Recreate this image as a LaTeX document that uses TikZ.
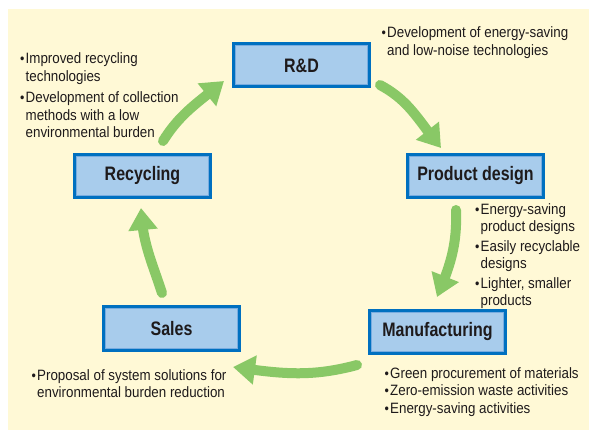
\documentclass[tikz,border=0pt]{standalone}
\usepackage{fontspec}
\newfontfamily\notefont[FakeStretch=0.89]{Liberation Sans}
\newfontfamily\boxfont[FakeStretch=0.82]{Liberation Sans}
\usetikzlibrary{arrows.meta,
                bending}

\definecolor{paper}{RGB}{255,249,214}
\definecolor{stageblue}{RGB}{0,112,192}
\definecolor{stagefill}{RGB}{168,204,236}
\definecolor{stageedge}{RGB}{120,172,224}
\definecolor{leaf}{RGB}{137,200,102}
\definecolor{darktext}{RGB}{30,26,27}

\newcommand{\blt}{\makebox[5.5pt][l]{\fontsize{14}{14}\selectfont\textbullet}}
\newcommand{\ind}{\hspace*{5.5pt}}

\begin{document}
\begin{tikzpicture}%
        [x = 1pt, y = 1pt,
         stage/.style = {draw = stageblue, line width = 3pt, fill = stagefill,
                         minimum width = 136pt, minimum height = 43pt, inner sep = 0pt,
                         text = darktext,
                         font = \boxfont\bfseries\fontsize{19.5}{20}\selectfont,
                         path picture = {\draw [stageedge, line width = 5pt]
                            (path picture bounding box.south west) rectangle
                            (path picture bounding box.north east);}},
         notes/.style = {anchor = north west, inner sep = 0pt, align = left,
                         text = darktext,
                         font = \notefont\fontsize{15}{17.5}\selectfont},
         cycle/.style = {leaf, line width = 10pt, line cap = round,
                         -{Triangle[width = 28pt, length = 22pt]}}]
        \useasboundingbox (0,0) rectangle (589,-430);
        \fill [paper] (8,-9) rectangle (589,-430);

        \node [stage] (rd)     at (301.5,-65.5) {R\&D};
        \node [stage] (design) at (475.5,-176)  {Product design};
        \node [stage] (recyc)  at (142.5,-176)  {Recycling};
        \node [stage] (sales)  at (171.5,-328.5) {Sales};
        \node [stage] (manuf)  at (437.5,-332)  {Manufacturing};

        \node [notes] (recyc-notes) at (20,-52.5)
            {\blt Improved recycling\\ \ind technologies\\[4pt]
             \blt Development of collection\\ \ind methods with a low\\ \ind environmental burden};
        \node [notes] (rd-notes) at (381.5,-26.5)
            {\blt Development of energy-saving\\ \ind and low-noise technologies};
        \node [notes] (design-notes) at (475,-203)
            {\blt Energy-saving\\ \ind product designs\\[2pt]
             \blt Easily recyclable\\ \ind designs\\[2pt]
             \blt Lighter, smaller\\ \ind products};
        \node [notes] (manuf-notes) at (384.5,-367)
            {\blt Green procurement of materials\\
             \blt Zero-emission waste activities\\
             \blt Energy-saving activities};
        \node [notes] (sales-notes) at (31.5,-369)
            {\blt Proposal of system solutions for\\ \ind environmental burden reduction};

        \coordinate (recyc-out)  at (163,-141);
        \coordinate (rd-in)      at (224,-81);
        \coordinate (rd-out)     at (380,-85);
        \coordinate (design-in)  at (441,-148);
        \coordinate (design-out) at (456,-210);
        \coordinate (manuf-in)   at (437,-297);
        \coordinate (manuf-out)  at (357,-365);
        \coordinate (sales-in)   at (233,-367);
        \coordinate (sales-out)  at (162,-293);
        \coordinate (recyc-in)   at (141,-208);

        \draw [cycle] (recyc-out)  to [out = 58, in = 220]   (rd-in);
        \draw [cycle] (rd-out)     to [out = -28, in = 130]  (design-in);
        \draw [cycle] (design-out) to [out = -88, in = 67]   (manuf-in);
        \draw [cycle] (manuf-out)  to [out = 195, in = -8]   (sales-in);
        \draw [cycle] (sales-out)  to [out = 108, in = -88]  (recyc-in);
    \end{tikzpicture}
\end{document}
